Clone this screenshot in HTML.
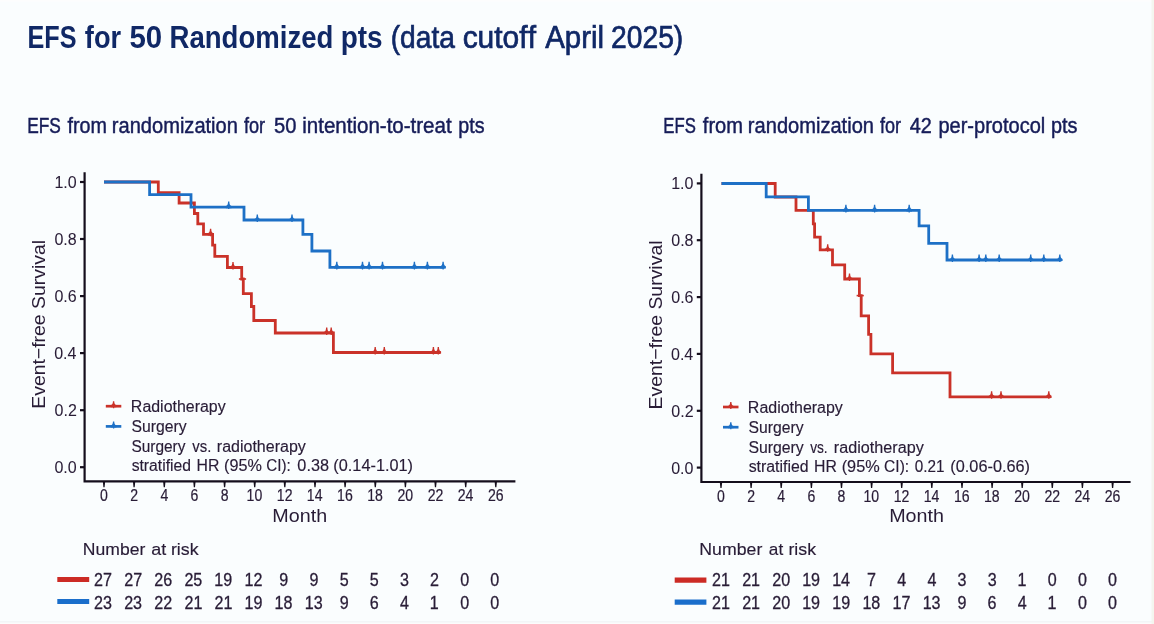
<!DOCTYPE html>
<html><head><meta charset="utf-8"><title>EFS</title>
<style>html,body{margin:0;padding:0;background:#FAFDFE;width:1154px;height:624px;overflow:hidden}svg{display:block;filter:blur(0.3px)}text{font-family:"Liberation Sans",sans-serif;font-kerning:none}</style>
</head><body>
<svg width="1154" height="624" viewBox="0 0 1154 624">
<rect width="1154" height="624" fill="#FAFDFE"/>
<rect x="0" y="0" width="1154" height="1.5" fill="#FDFDFD"/>
<rect x="0" y="621.5" width="1154" height="1" fill="#ECEEF0"/>
<rect x="0" y="622.5" width="1154" height="1.5" fill="#FCFCFC"/>
<rect x="1151.5" y="0" width="2.5" height="624" fill="#F4F6EF"/>
<text x="27.52" y="47.9" font-size="32.0" font-weight="bold" fill="#102866" textLength="48.97" lengthAdjust="spacingAndGlyphs">EFS</text>
<text x="84.83" y="47.9" font-size="32.0" font-weight="bold" fill="#102866" textLength="36.28" lengthAdjust="spacingAndGlyphs">for</text>
<text x="129.50" y="47.9" font-size="32.0" font-weight="bold" fill="#102866" textLength="32.71" lengthAdjust="spacingAndGlyphs">50</text>
<text x="169.56" y="47.9" font-size="32.0" font-weight="bold" fill="#102866" textLength="163.86" lengthAdjust="spacingAndGlyphs">Randomized</text>
<text x="340.76" y="47.9" font-size="32.0" font-weight="bold" fill="#102866" textLength="41.89" lengthAdjust="spacingAndGlyphs">pts</text>
<text x="390.75" y="47.9" font-size="32.0" fill="#102866" stroke="#102866" stroke-width="0.7" textLength="64.15" lengthAdjust="spacingAndGlyphs">(data</text>
<text x="462.63" y="47.9" font-size="32.0" fill="#102866" stroke="#102866" stroke-width="0.7" textLength="73.33" lengthAdjust="spacingAndGlyphs">cutoff</text>
<text x="545.24" y="47.9" font-size="32.0" fill="#102866" stroke="#102866" stroke-width="0.7" textLength="58.82" lengthAdjust="spacingAndGlyphs">April</text>
<text x="611.08" y="47.9" font-size="32.0" fill="#102866" stroke="#102866" stroke-width="0.7" textLength="72.17" lengthAdjust="spacingAndGlyphs">2025)</text>
<text x="27.28" y="133.2" font-size="21.8" fill="#161C58" stroke="#161C58" stroke-width="0.45" textLength="33.61" lengthAdjust="spacingAndGlyphs">EFS</text>
<text x="67.42" y="133.2" font-size="21.8" fill="#161C58" stroke="#161C58" stroke-width="0.45" textLength="39.48" lengthAdjust="spacingAndGlyphs">from</text>
<text x="111.87" y="133.2" font-size="21.8" fill="#161C58" stroke="#161C58" stroke-width="0.45" textLength="126.04" lengthAdjust="spacingAndGlyphs">randomization</text>
<text x="243.94" y="133.2" font-size="21.8" fill="#161C58" stroke="#161C58" stroke-width="0.45" textLength="21.16" lengthAdjust="spacingAndGlyphs">for</text>
<text x="273.99" y="133.2" font-size="21.8" fill="#161C58" stroke="#161C58" stroke-width="0.45" textLength="22.39" lengthAdjust="spacingAndGlyphs">50</text>
<text x="302.23" y="133.2" font-size="21.8" fill="#161C58" stroke="#161C58" stroke-width="0.45" textLength="149.42" lengthAdjust="spacingAndGlyphs">intention-to-treat</text>
<text x="458.33" y="133.2" font-size="21.8" fill="#161C58" stroke="#161C58" stroke-width="0.45" textLength="26.28" lengthAdjust="spacingAndGlyphs">pts</text>
<text x="663.33" y="133.2" font-size="21.8" fill="#161C58" stroke="#161C58" stroke-width="0.45" textLength="32.54" lengthAdjust="spacingAndGlyphs">EFS</text>
<text x="702.82" y="133.2" font-size="21.8" fill="#161C58" stroke="#161C58" stroke-width="0.45" textLength="40.21" lengthAdjust="spacingAndGlyphs">from</text>
<text x="747.87" y="133.2" font-size="21.8" fill="#161C58" stroke="#161C58" stroke-width="0.45" textLength="126.14" lengthAdjust="spacingAndGlyphs">randomization</text>
<text x="880.04" y="133.2" font-size="21.8" fill="#161C58" stroke="#161C58" stroke-width="0.45" textLength="21.06" lengthAdjust="spacingAndGlyphs">for</text>
<text x="909.85" y="133.2" font-size="21.8" fill="#161C58" stroke="#161C58" stroke-width="0.45" textLength="22.05" lengthAdjust="spacingAndGlyphs">42</text>
<text x="938.41" y="133.2" font-size="21.8" fill="#161C58" stroke="#161C58" stroke-width="0.45" textLength="106.83" lengthAdjust="spacingAndGlyphs">per-protocol</text>
<text x="1050.92" y="133.2" font-size="21.8" fill="#161C58" stroke="#161C58" stroke-width="0.45" textLength="26.50" lengthAdjust="spacingAndGlyphs">pts</text>
<path d="M84.6,172.3 V481.3 H515.4" fill="none" stroke="#140E1C" stroke-width="2.2" stroke-linejoin="miter"/>
<path d="M80.0,467.2 H84.6" stroke="#140E1C" stroke-width="2.2"/>
<text x="54.38" y="473.1" font-size="16" fill="#281C36" stroke="#281C36" stroke-width="0.05" textLength="22.24" lengthAdjust="spacingAndGlyphs">0.0</text>
<path d="M80.0,410.2 H84.6" stroke="#140E1C" stroke-width="2.2"/>
<text x="54.56" y="416.1" font-size="16" fill="#281C36" stroke="#281C36" stroke-width="0.05" textLength="22.24" lengthAdjust="spacingAndGlyphs">0.2</text>
<path d="M80.0,353.1 H84.6" stroke="#140E1C" stroke-width="2.2"/>
<text x="54.23" y="359.0" font-size="16" fill="#281C36" stroke="#281C36" stroke-width="0.05" textLength="22.24" lengthAdjust="spacingAndGlyphs">0.4</text>
<path d="M80.0,296.1 H84.6" stroke="#140E1C" stroke-width="2.2"/>
<text x="54.46" y="302.0" font-size="16" fill="#281C36" stroke="#281C36" stroke-width="0.05" textLength="22.24" lengthAdjust="spacingAndGlyphs">0.6</text>
<path d="M80.0,239.0 H84.6" stroke="#140E1C" stroke-width="2.2"/>
<text x="54.45" y="244.9" font-size="16" fill="#281C36" stroke="#281C36" stroke-width="0.05" textLength="22.24" lengthAdjust="spacingAndGlyphs">0.8</text>
<path d="M80.0,182.0 H84.6" stroke="#140E1C" stroke-width="2.2"/>
<text x="54.38" y="187.9" font-size="16" fill="#281C36" stroke="#281C36" stroke-width="0.05" textLength="22.24" lengthAdjust="spacingAndGlyphs">1.0</text>
<path d="M102.8,481.3 L105.2,481.3 L104.6,487.3 L103.4,487.3 Z" fill="#140E1C"/>
<text x="100.08" y="501.3" font-size="16" fill="#281C36" stroke="#281C36" stroke-width="0.2" textLength="7.83" lengthAdjust="spacingAndGlyphs">0</text>
<path d="M132.9,481.3 L135.3,481.3 L134.7,487.3 L133.5,487.3 Z" fill="#140E1C"/>
<text x="130.22" y="501.3" font-size="16" fill="#281C36" stroke="#281C36" stroke-width="0.2" textLength="7.83" lengthAdjust="spacingAndGlyphs">2</text>
<path d="M163.1,481.3 L165.5,481.3 L164.9,487.3 L163.7,487.3 Z" fill="#140E1C"/>
<text x="160.41" y="501.3" font-size="16" fill="#281C36" stroke="#281C36" stroke-width="0.2" textLength="7.83" lengthAdjust="spacingAndGlyphs">4</text>
<path d="M193.2,481.3 L195.6,481.3 L195.0,487.3 L193.8,487.3 Z" fill="#140E1C"/>
<text x="190.46" y="501.3" font-size="16" fill="#281C36" stroke="#281C36" stroke-width="0.2" textLength="7.83" lengthAdjust="spacingAndGlyphs">6</text>
<path d="M223.4,481.3 L225.8,481.3 L225.2,487.3 L224.0,487.3 Z" fill="#140E1C"/>
<text x="220.64" y="501.3" font-size="16" fill="#281C36" stroke="#281C36" stroke-width="0.2" textLength="7.83" lengthAdjust="spacingAndGlyphs">8</text>
<path d="M253.5,481.3 L255.9,481.3 L255.3,487.3 L254.1,487.3 Z" fill="#140E1C"/>
<text x="246.61" y="501.3" font-size="16" fill="#281C36" stroke="#281C36" stroke-width="0.2" textLength="15.66" lengthAdjust="spacingAndGlyphs">10</text>
<path d="M283.6,481.3 L286.0,481.3 L285.4,487.3 L284.2,487.3 Z" fill="#140E1C"/>
<text x="276.83" y="501.3" font-size="16" fill="#281C36" stroke="#281C36" stroke-width="0.2" textLength="15.66" lengthAdjust="spacingAndGlyphs">12</text>
<path d="M313.8,481.3 L316.2,481.3 L315.6,487.3 L314.4,487.3 Z" fill="#140E1C"/>
<text x="306.82" y="501.3" font-size="16" fill="#281C36" stroke="#281C36" stroke-width="0.2" textLength="15.66" lengthAdjust="spacingAndGlyphs">14</text>
<path d="M343.9,481.3 L346.3,481.3 L345.7,487.3 L344.5,487.3 Z" fill="#140E1C"/>
<text x="337.06" y="501.3" font-size="16" fill="#281C36" stroke="#281C36" stroke-width="0.2" textLength="15.66" lengthAdjust="spacingAndGlyphs">16</text>
<path d="M374.1,481.3 L376.5,481.3 L375.9,487.3 L374.7,487.3 Z" fill="#140E1C"/>
<text x="367.20" y="501.3" font-size="16" fill="#281C36" stroke="#281C36" stroke-width="0.2" textLength="15.66" lengthAdjust="spacingAndGlyphs">18</text>
<path d="M404.2,481.3 L406.6,481.3 L406.0,487.3 L404.8,487.3 Z" fill="#140E1C"/>
<text x="397.49" y="501.3" font-size="16" fill="#281C36" stroke="#281C36" stroke-width="0.2" textLength="15.66" lengthAdjust="spacingAndGlyphs">20</text>
<path d="M434.3,481.3 L436.7,481.3 L436.1,487.3 L434.9,487.3 Z" fill="#140E1C"/>
<text x="427.71" y="501.3" font-size="16" fill="#281C36" stroke="#281C36" stroke-width="0.2" textLength="15.66" lengthAdjust="spacingAndGlyphs">22</text>
<path d="M464.5,481.3 L466.9,481.3 L466.3,487.3 L465.1,487.3 Z" fill="#140E1C"/>
<text x="457.70" y="501.3" font-size="16" fill="#281C36" stroke="#281C36" stroke-width="0.2" textLength="15.66" lengthAdjust="spacingAndGlyphs">24</text>
<path d="M494.6,481.3 L497.0,481.3 L496.4,487.3 L495.2,487.3 Z" fill="#140E1C"/>
<text x="487.94" y="501.3" font-size="16" fill="#281C36" stroke="#281C36" stroke-width="0.2" textLength="15.66" lengthAdjust="spacingAndGlyphs">26</text>
<path d="M105.8,406.2 H121.3" stroke="#CA3229" stroke-width="2.7"/><path d="M110.80,405.10 Q112.90,404.80 112.95,401.20 L114.25,401.20 Q114.30,404.80 116.40,405.10 L116.40,407.30 L114.25,407.30 L114.25,408.20 L112.95,408.20 L112.95,407.30 L110.80,407.30 Z" fill="#CA3229"/>
<path d="M105.8,426.4 H121.3" stroke="#1D70C6" stroke-width="2.7"/><path d="M110.80,425.30 Q112.90,425.00 112.95,421.40 L114.25,421.40 Q114.30,425.00 116.40,425.30 L116.40,427.50 L114.25,427.50 L114.25,428.40 L112.95,428.40 L112.95,427.50 L110.80,427.50 Z" fill="#1D70C6"/>
<text x="130.89" y="411.6" font-size="15.8" fill="#281C36" stroke="#281C36" stroke-width="0.15" textLength="94.74" lengthAdjust="spacingAndGlyphs">Radiotherapy</text>
<text x="131.48" y="431.6" font-size="15.8" fill="#281C36" stroke="#281C36" stroke-width="0.15" textLength="55.15" lengthAdjust="spacingAndGlyphs">Surgery</text>
<text x="131.40" y="452.4" font-size="15.8" fill="#281C36" stroke="#281C36" stroke-width="0.15" textLength="54.03" lengthAdjust="spacingAndGlyphs">Surgery</text>
<text x="192.35" y="452.4" font-size="15.8" fill="#281C36" stroke="#281C36" stroke-width="0.15" textLength="19.01" lengthAdjust="spacingAndGlyphs">vs.</text>
<text x="216.84" y="452.4" font-size="15.8" fill="#281C36" stroke="#281C36" stroke-width="0.15" textLength="88.99" lengthAdjust="spacingAndGlyphs">radiotherapy</text>
<text x="131.66" y="470.5" font-size="15.8" fill="#281C36" stroke="#281C36" stroke-width="0.15" textLength="59.35" lengthAdjust="spacingAndGlyphs">stratified</text>
<text x="196.50" y="470.5" font-size="15.8" fill="#281C36" stroke="#281C36" stroke-width="0.15" textLength="22.83" lengthAdjust="spacingAndGlyphs">HR</text>
<text x="223.99" y="470.5" font-size="15.8" fill="#281C36" stroke="#281C36" stroke-width="0.15" textLength="37.88" lengthAdjust="spacingAndGlyphs">(95%</text>
<text x="266.23" y="470.5" font-size="15.8" fill="#281C36" stroke="#281C36" stroke-width="0.15" textLength="24.46" lengthAdjust="spacingAndGlyphs">CI):</text>
<text x="297.36" y="470.5" font-size="15.8" fill="#281C36" stroke="#281C36" stroke-width="0.15" textLength="31.64" lengthAdjust="spacingAndGlyphs">0.38</text>
<text x="333.39" y="470.5" font-size="15.8" fill="#281C36" stroke="#281C36" stroke-width="0.15" textLength="79.62" lengthAdjust="spacingAndGlyphs">(0.14-1.01)</text>
<path d="M104,182 H158.3 V192.6 H179.1 V203 H194.4 V213.5 H197.8 V223.8 H203.5 V234.3 H212.6 V245.2 H214.8 V256.4 H227.4 V267.5 H241.7 V279 H243.3 V293.6 H251.4 V306.5 H253.8 V320.5 H275.3 V333 H333.4 V352.5 H440.5" fill="none" stroke="#CA3229" stroke-width="2.8" stroke-linejoin="miter" stroke-linecap="butt"/>
<path d="M104,182 H149.6 V194.6 H191 V207.1 H244 V220 H302.9 V234.3 H311.9 V251 H329.9 V267.4 H444.5" fill="none" stroke="#1D70C6" stroke-width="2.8" stroke-linejoin="miter" stroke-linecap="butt"/>
<path d="M207.80,233.20 Q209.90,232.90 209.95,228.70 L211.25,228.70 Q211.30,232.90 213.40,233.20 L213.40,235.40 L211.25,235.40 L211.25,236.30 L209.95,236.30 L209.95,235.40 L207.80,235.40 Z" fill="#CA3229"/>
<path d="M230.20,266.40 Q232.30,266.10 232.35,261.90 L233.65,261.90 Q233.70,266.10 235.80,266.40 L235.80,268.60 L233.65,268.60 L233.65,269.50 L232.35,269.50 L232.35,268.60 L230.20,268.60 Z" fill="#CA3229"/>
<path d="M323.90,331.90 Q326.00,331.60 326.05,327.40 L327.35,327.40 Q327.40,331.60 329.50,331.90 L329.50,334.10 L327.35,334.10 L327.35,335.00 L326.05,335.00 L326.05,334.10 L323.90,334.10 Z" fill="#CA3229"/>
<path d="M328.40,331.90 Q330.50,331.60 330.55,327.40 L331.85,327.40 Q331.90,331.60 334.00,331.90 L334.00,334.10 L331.85,334.10 L331.85,335.00 L330.55,335.00 L330.55,334.10 L328.40,334.10 Z" fill="#CA3229"/>
<path d="M372.40,351.40 Q374.50,351.10 374.55,346.90 L375.85,346.90 Q375.90,351.10 378.00,351.40 L378.00,353.60 L375.85,353.60 L375.85,354.50 L374.55,354.50 L374.55,353.60 L372.40,353.60 Z" fill="#CA3229"/>
<path d="M381.50,351.40 Q383.60,351.10 383.65,346.90 L384.95,346.90 Q385.00,351.10 387.10,351.40 L387.10,353.60 L384.95,353.60 L384.95,354.50 L383.65,354.50 L383.65,353.60 L381.50,353.60 Z" fill="#CA3229"/>
<path d="M430.60,351.40 Q432.70,351.10 432.75,346.90 L434.05,346.90 Q434.10,351.10 436.20,351.40 L436.20,353.60 L434.05,353.60 L434.05,354.50 L432.75,354.50 L432.75,353.60 L430.60,353.60 Z" fill="#CA3229"/>
<path d="M435.50,351.40 Q437.60,351.10 437.65,346.90 L438.95,346.90 Q439.00,351.10 441.10,351.40 L441.10,353.60 L438.95,353.60 L438.95,354.50 L437.65,354.50 L437.65,353.60 L435.50,353.60 Z" fill="#CA3229"/>
<path d="M225.90,206.00 Q228.00,205.70 228.05,201.50 L229.35,201.50 Q229.40,205.70 231.50,206.00 L231.50,208.20 L229.35,208.20 L229.35,209.10 L228.05,209.10 L228.05,208.20 L225.90,208.20 Z" fill="#1D70C6"/>
<path d="M254.50,218.90 Q256.60,218.60 256.65,214.40 L257.95,214.40 Q258.00,218.60 260.10,218.90 L260.10,221.10 L257.95,221.10 L257.95,222.00 L256.65,222.00 L256.65,221.10 L254.50,221.10 Z" fill="#1D70C6"/>
<path d="M289.20,218.90 Q291.30,218.60 291.35,214.40 L292.65,214.40 Q292.70,218.60 294.80,218.90 L294.80,221.10 L292.65,221.10 L292.65,222.00 L291.35,222.00 L291.35,221.10 L289.20,221.10 Z" fill="#1D70C6"/>
<path d="M334.00,266.30 Q336.10,266.00 336.15,261.80 L337.45,261.80 Q337.50,266.00 339.60,266.30 L339.60,268.50 L337.45,268.50 L337.45,269.40 L336.15,269.40 L336.15,268.50 L334.00,268.50 Z" fill="#1D70C6"/>
<path d="M359.70,266.30 Q361.80,266.00 361.85,261.80 L363.15,261.80 Q363.20,266.00 365.30,266.30 L365.30,268.50 L363.15,268.50 L363.15,269.40 L361.85,269.40 L361.85,268.50 L359.70,268.50 Z" fill="#1D70C6"/>
<path d="M366.30,266.30 Q368.40,266.00 368.45,261.80 L369.75,261.80 Q369.80,266.00 371.90,266.30 L371.90,268.50 L369.75,268.50 L369.75,269.40 L368.45,269.40 L368.45,268.50 L366.30,268.50 Z" fill="#1D70C6"/>
<path d="M379.70,266.30 Q381.80,266.00 381.85,261.80 L383.15,261.80 Q383.20,266.00 385.30,266.30 L385.30,268.50 L383.15,268.50 L383.15,269.40 L381.85,269.40 L381.85,268.50 L379.70,268.50 Z" fill="#1D70C6"/>
<path d="M411.60,266.30 Q413.70,266.00 413.75,261.80 L415.05,261.80 Q415.10,266.00 417.20,266.30 L417.20,268.50 L415.05,268.50 L415.05,269.40 L413.75,269.40 L413.75,268.50 L411.60,268.50 Z" fill="#1D70C6"/>
<path d="M424.60,266.30 Q426.70,266.00 426.75,261.80 L428.05,261.80 Q428.10,266.00 430.20,266.30 L430.20,268.50 L428.05,268.50 L428.05,269.40 L426.75,269.40 L426.75,268.50 L424.60,268.50 Z" fill="#1D70C6"/>
<path d="M440.30,266.30 Q442.40,266.00 442.45,261.80 L443.75,261.80 Q443.80,266.00 445.90,266.30 L445.90,268.50 L443.75,268.50 L443.75,269.40 L442.45,269.40 L442.45,268.50 L440.30,268.50 Z" fill="#1D70C6"/>
<path d="M238.90,278.20 H246.10 V279.80 H238.90 Z" fill="#CA3229"/>
<path d="M701.4,173.7 V482 H1130.6" fill="none" stroke="#140E1C" stroke-width="2.2" stroke-linejoin="miter"/>
<path d="M696.8,467.6 H701.4" stroke="#140E1C" stroke-width="2.2"/>
<text x="671.18" y="473.5" font-size="16" fill="#281C36" stroke="#281C36" stroke-width="0.05" textLength="22.24" lengthAdjust="spacingAndGlyphs">0.0</text>
<path d="M696.8,410.8 H701.4" stroke="#140E1C" stroke-width="2.2"/>
<text x="671.36" y="416.7" font-size="16" fill="#281C36" stroke="#281C36" stroke-width="0.05" textLength="22.24" lengthAdjust="spacingAndGlyphs">0.2</text>
<path d="M696.8,353.9 H701.4" stroke="#140E1C" stroke-width="2.2"/>
<text x="671.03" y="359.8" font-size="16" fill="#281C36" stroke="#281C36" stroke-width="0.05" textLength="22.24" lengthAdjust="spacingAndGlyphs">0.4</text>
<path d="M696.8,297.1 H701.4" stroke="#140E1C" stroke-width="2.2"/>
<text x="671.26" y="303.0" font-size="16" fill="#281C36" stroke="#281C36" stroke-width="0.05" textLength="22.24" lengthAdjust="spacingAndGlyphs">0.6</text>
<path d="M696.8,240.2 H701.4" stroke="#140E1C" stroke-width="2.2"/>
<text x="671.25" y="246.1" font-size="16" fill="#281C36" stroke="#281C36" stroke-width="0.05" textLength="22.24" lengthAdjust="spacingAndGlyphs">0.8</text>
<path d="M696.8,183.4 H701.4" stroke="#140E1C" stroke-width="2.2"/>
<text x="671.18" y="189.3" font-size="16" fill="#281C36" stroke="#281C36" stroke-width="0.05" textLength="22.24" lengthAdjust="spacingAndGlyphs">1.0</text>
<path d="M719.8,482 L722.2,482 L721.6,488 L720.4,488 Z" fill="#140E1C"/>
<text x="717.08" y="502.0" font-size="16" fill="#281C36" stroke="#281C36" stroke-width="0.2" textLength="7.83" lengthAdjust="spacingAndGlyphs">0</text>
<path d="M749.9,482 L752.3,482 L751.7,488 L750.5,488 Z" fill="#140E1C"/>
<text x="747.20" y="502.0" font-size="16" fill="#281C36" stroke="#281C36" stroke-width="0.2" textLength="7.83" lengthAdjust="spacingAndGlyphs">2</text>
<path d="M780.0,482 L782.4,482 L781.8,488 L780.6,488 Z" fill="#140E1C"/>
<text x="777.37" y="502.0" font-size="16" fill="#281C36" stroke="#281C36" stroke-width="0.2" textLength="7.83" lengthAdjust="spacingAndGlyphs">4</text>
<path d="M810.2,482 L812.6,482 L812.0,488 L810.8,488 Z" fill="#140E1C"/>
<text x="807.40" y="502.0" font-size="16" fill="#281C36" stroke="#281C36" stroke-width="0.2" textLength="7.83" lengthAdjust="spacingAndGlyphs">6</text>
<path d="M840.3,482 L842.7,482 L842.1,488 L840.9,488 Z" fill="#140E1C"/>
<text x="837.56" y="502.0" font-size="16" fill="#281C36" stroke="#281C36" stroke-width="0.2" textLength="7.83" lengthAdjust="spacingAndGlyphs">8</text>
<path d="M870.4,482 L872.8,482 L872.2,488 L871.0,488 Z" fill="#140E1C"/>
<text x="863.51" y="502.0" font-size="16" fill="#281C36" stroke="#281C36" stroke-width="0.2" textLength="15.66" lengthAdjust="spacingAndGlyphs">10</text>
<path d="M900.5,482 L902.9,482 L902.3,488 L901.1,488 Z" fill="#140E1C"/>
<text x="893.71" y="502.0" font-size="16" fill="#281C36" stroke="#281C36" stroke-width="0.2" textLength="15.66" lengthAdjust="spacingAndGlyphs">12</text>
<path d="M930.6,482 L933.0,482 L932.4,488 L931.2,488 Z" fill="#140E1C"/>
<text x="923.68" y="502.0" font-size="16" fill="#281C36" stroke="#281C36" stroke-width="0.2" textLength="15.66" lengthAdjust="spacingAndGlyphs">14</text>
<path d="M960.8,482 L963.2,482 L962.6,488 L961.4,488 Z" fill="#140E1C"/>
<text x="953.90" y="502.0" font-size="16" fill="#281C36" stroke="#281C36" stroke-width="0.2" textLength="15.66" lengthAdjust="spacingAndGlyphs">16</text>
<path d="M990.9,482 L993.3,482 L992.7,488 L991.5,488 Z" fill="#140E1C"/>
<text x="984.02" y="502.0" font-size="16" fill="#281C36" stroke="#281C36" stroke-width="0.2" textLength="15.66" lengthAdjust="spacingAndGlyphs">18</text>
<path d="M1021.0,482 L1023.4,482 L1022.8,488 L1021.6,488 Z" fill="#140E1C"/>
<text x="1014.29" y="502.0" font-size="16" fill="#281C36" stroke="#281C36" stroke-width="0.2" textLength="15.66" lengthAdjust="spacingAndGlyphs">20</text>
<path d="M1051.1,482 L1053.5,482 L1052.9,488 L1051.7,488 Z" fill="#140E1C"/>
<text x="1044.49" y="502.0" font-size="16" fill="#281C36" stroke="#281C36" stroke-width="0.2" textLength="15.66" lengthAdjust="spacingAndGlyphs">22</text>
<path d="M1081.2,482 L1083.6,482 L1083.0,488 L1081.8,488 Z" fill="#140E1C"/>
<text x="1074.46" y="502.0" font-size="16" fill="#281C36" stroke="#281C36" stroke-width="0.2" textLength="15.66" lengthAdjust="spacingAndGlyphs">24</text>
<path d="M1111.4,482 L1113.8,482 L1113.2,488 L1112.0,488 Z" fill="#140E1C"/>
<text x="1104.68" y="502.0" font-size="16" fill="#281C36" stroke="#281C36" stroke-width="0.2" textLength="15.66" lengthAdjust="spacingAndGlyphs">26</text>
<path d="M723.0,407.0 H738.5" stroke="#CA3229" stroke-width="2.7"/><path d="M728.00,405.90 Q730.10,405.60 730.15,402.00 L731.45,402.00 Q731.50,405.60 733.60,405.90 L733.60,408.10 L731.45,408.10 L731.45,409.00 L730.15,409.00 L730.15,408.10 L728.00,408.10 Z" fill="#CA3229"/>
<path d="M723.0,427.2 H738.5" stroke="#1D70C6" stroke-width="2.7"/><path d="M728.00,426.10 Q730.10,425.80 730.15,422.20 L731.45,422.20 Q731.50,425.80 733.60,426.10 L733.60,428.30 L731.45,428.30 L731.45,429.20 L730.15,429.20 L730.15,428.30 L728.00,428.30 Z" fill="#1D70C6"/>
<text x="747.89" y="412.8" font-size="15.8" fill="#281C36" stroke="#281C36" stroke-width="0.15" textLength="94.94" lengthAdjust="spacingAndGlyphs">Radiotherapy</text>
<text x="748.49" y="433" font-size="15.8" fill="#281C36" stroke="#281C36" stroke-width="0.15" textLength="55.04" lengthAdjust="spacingAndGlyphs">Surgery</text>
<text x="748.38" y="453.3" font-size="15.8" fill="#281C36" stroke="#281C36" stroke-width="0.15" textLength="55.35" lengthAdjust="spacingAndGlyphs">Surgery</text>
<text x="810.15" y="453.3" font-size="15.8" fill="#281C36" stroke="#281C36" stroke-width="0.15" textLength="17.50" lengthAdjust="spacingAndGlyphs">vs.</text>
<text x="833.83" y="453.3" font-size="15.8" fill="#281C36" stroke="#281C36" stroke-width="0.15" textLength="89.91" lengthAdjust="spacingAndGlyphs">radiotherapy</text>
<text x="748.66" y="471.6" font-size="15.8" fill="#281C36" stroke="#281C36" stroke-width="0.15" textLength="59.96" lengthAdjust="spacingAndGlyphs">stratified</text>
<text x="814.10" y="471.6" font-size="15.8" fill="#281C36" stroke="#281C36" stroke-width="0.15" textLength="22.83" lengthAdjust="spacingAndGlyphs">HR</text>
<text x="841.69" y="471.6" font-size="15.8" fill="#281C36" stroke="#281C36" stroke-width="0.15" textLength="37.99" lengthAdjust="spacingAndGlyphs">(95%</text>
<text x="884.11" y="471.6" font-size="15.8" fill="#281C36" stroke="#281C36" stroke-width="0.15" textLength="25.01" lengthAdjust="spacingAndGlyphs">CI):</text>
<text x="914.80" y="471.6" font-size="15.8" fill="#281C36" stroke="#281C36" stroke-width="0.15" textLength="29.74" lengthAdjust="spacingAndGlyphs">0.21</text>
<text x="950.39" y="471.6" font-size="15.8" fill="#281C36" stroke="#281C36" stroke-width="0.15" textLength="79.62" lengthAdjust="spacingAndGlyphs">(0.06-0.66)</text>
<path d="M721.5,183.5 H775.2 V197 H796 V210.4 H813.3 V223.8 H814.6 V237.2 H820.2 V249.8 H832.5 V264.9 H844.7 V279 H859.4 V295.6 H861.2 V315.9 H868.6 V334.4 H870.9 V353.9 H892.6 V372.9 H950 V396.8 H1050.5" fill="none" stroke="#CA3229" stroke-width="2.8" stroke-linejoin="miter" stroke-linecap="butt"/>
<path d="M721.5,183.5 H766.2 V196.8 H808.4 V210.4 H919.1 V225.8 H928.7 V243.4 H947 V260 H1061.5" fill="none" stroke="#1D70C6" stroke-width="2.8" stroke-linejoin="miter" stroke-linecap="butt"/>
<path d="M824.90,248.70 Q827.00,248.40 827.05,244.20 L828.35,244.20 Q828.40,248.40 830.50,248.70 L830.50,250.90 L828.35,250.90 L828.35,251.80 L827.05,251.80 L827.05,250.90 L824.90,250.90 Z" fill="#CA3229"/>
<path d="M846.70,277.90 Q848.80,277.60 848.85,273.40 L850.15,273.40 Q850.20,277.60 852.30,277.90 L852.30,280.10 L850.15,280.10 L850.15,281.00 L848.85,281.00 L848.85,280.10 L846.70,280.10 Z" fill="#CA3229"/>
<path d="M988.80,395.70 Q990.90,395.40 990.95,391.20 L992.25,391.20 Q992.30,395.40 994.40,395.70 L994.40,397.90 L992.25,397.90 L992.25,398.80 L990.95,398.80 L990.95,397.90 L988.80,397.90 Z" fill="#CA3229"/>
<path d="M998.20,395.70 Q1000.30,395.40 1000.35,391.20 L1001.65,391.20 Q1001.70,395.40 1003.80,395.70 L1003.80,397.90 L1001.65,397.90 L1001.65,398.80 L1000.35,398.80 L1000.35,397.90 L998.20,397.90 Z" fill="#CA3229"/>
<path d="M1046.00,395.70 Q1048.10,395.40 1048.15,391.20 L1049.45,391.20 Q1049.50,395.40 1051.60,395.70 L1051.60,397.90 L1049.45,397.90 L1049.45,398.80 L1048.15,398.80 L1048.15,397.90 L1046.00,397.90 Z" fill="#CA3229"/>
<path d="M843.10,209.30 Q845.20,209.00 845.25,204.80 L846.55,204.80 Q846.60,209.00 848.70,209.30 L848.70,211.50 L846.55,211.50 L846.55,212.40 L845.25,212.40 L845.25,211.50 L843.10,211.50 Z" fill="#1D70C6"/>
<path d="M871.80,209.30 Q873.90,209.00 873.95,204.80 L875.25,204.80 Q875.30,209.00 877.40,209.30 L877.40,211.50 L875.25,211.50 L875.25,212.40 L873.95,212.40 L873.95,211.50 L871.80,211.50 Z" fill="#1D70C6"/>
<path d="M906.40,209.30 Q908.50,209.00 908.55,204.80 L909.85,204.80 Q909.90,209.00 912.00,209.30 L912.00,211.50 L909.85,211.50 L909.85,212.40 L908.55,212.40 L908.55,211.50 L906.40,211.50 Z" fill="#1D70C6"/>
<path d="M949.60,258.90 Q951.70,258.60 951.75,254.40 L953.05,254.40 Q953.10,258.60 955.20,258.90 L955.20,261.10 L953.05,261.10 L953.05,262.00 L951.75,262.00 L951.75,261.10 L949.60,261.10 Z" fill="#1D70C6"/>
<path d="M976.30,258.90 Q978.40,258.60 978.45,254.40 L979.75,254.40 Q979.80,258.60 981.90,258.90 L981.90,261.10 L979.75,261.10 L979.75,262.00 L978.45,262.00 L978.45,261.10 L976.30,261.10 Z" fill="#1D70C6"/>
<path d="M983.00,258.90 Q985.10,258.60 985.15,254.40 L986.45,254.40 Q986.50,258.60 988.60,258.90 L988.60,261.10 L986.45,261.10 L986.45,262.00 L985.15,262.00 L985.15,261.10 L983.00,261.10 Z" fill="#1D70C6"/>
<path d="M996.40,258.90 Q998.50,258.60 998.55,254.40 L999.85,254.40 Q999.90,258.60 1002.00,258.90 L1002.00,261.10 L999.85,261.10 L999.85,262.00 L998.55,262.00 L998.55,261.10 L996.40,261.10 Z" fill="#1D70C6"/>
<path d="M1027.90,258.90 Q1030.00,258.60 1030.05,254.40 L1031.35,254.40 Q1031.40,258.60 1033.50,258.90 L1033.50,261.10 L1031.35,261.10 L1031.35,262.00 L1030.05,262.00 L1030.05,261.10 L1027.90,261.10 Z" fill="#1D70C6"/>
<path d="M1041.00,258.90 Q1043.10,258.60 1043.15,254.40 L1044.45,254.40 Q1044.50,258.60 1046.60,258.90 L1046.60,261.10 L1044.45,261.10 L1044.45,262.00 L1043.15,262.00 L1043.15,261.10 L1041.00,261.10 Z" fill="#1D70C6"/>
<path d="M1057.00,258.90 Q1059.10,258.60 1059.15,254.40 L1060.45,254.40 Q1060.50,258.60 1062.60,258.90 L1062.60,261.10 L1060.45,261.10 L1060.45,262.00 L1059.15,262.00 L1059.15,261.10 L1057.00,261.10 Z" fill="#1D70C6"/>
<path d="M856.60,294.80 H863.80 V296.40 H856.60 Z" fill="#CA3229"/>
<text x="272.38" y="522" font-size="19" fill="#281C36" textLength="54.80" lengthAdjust="spacingAndGlyphs">Month</text>
<text x="889.18" y="522.3" font-size="19" fill="#281C36" textLength="54.80" lengthAdjust="spacingAndGlyphs">Month</text>
<text transform="rotate(-90)" x="-408.79" y="44.7" font-size="18.3" fill="#281C36" stroke="#281C36" stroke-width="0" textLength="168.89" lengthAdjust="spacingAndGlyphs">Event−free Survival</text>
<text transform="rotate(-90)" x="-409.49" y="661.9" font-size="18.3" fill="#281C36" stroke="#281C36" stroke-width="0" textLength="168.99" lengthAdjust="spacingAndGlyphs">Event−free Survival</text>
<text x="82.86" y="555.3" font-size="17" fill="#281C36" stroke="#281C36" stroke-width="0.15" textLength="62.43" lengthAdjust="spacingAndGlyphs">Number</text>
<text x="151.24" y="555.3" font-size="17" fill="#281C36" stroke="#281C36" stroke-width="0.15" textLength="15.00" lengthAdjust="spacingAndGlyphs">at</text>
<text x="170.92" y="555.3" font-size="17" fill="#281C36" stroke="#281C36" stroke-width="0.15" textLength="27.65" lengthAdjust="spacingAndGlyphs">risk</text>
<text x="699.35" y="555.3" font-size="17" fill="#281C36" stroke="#281C36" stroke-width="0.15" textLength="62.95" lengthAdjust="spacingAndGlyphs">Number</text>
<text x="768.87" y="555.3" font-size="17" fill="#281C36" stroke="#281C36" stroke-width="0.15" textLength="14.36" lengthAdjust="spacingAndGlyphs">at</text>
<text x="788.42" y="555.3" font-size="17" fill="#281C36" stroke="#281C36" stroke-width="0.15" textLength="27.65" lengthAdjust="spacingAndGlyphs">risk</text>
<path d="M57.3,579.5 H89.2" stroke="#CC2B25" stroke-width="5.2"/>
<path d="M57.3,601.5 H89.2" stroke="#1A6ECB" stroke-width="5.2"/>
<path d="M674.7,580.2 H706.4" stroke="#CC2B25" stroke-width="5.2"/>
<path d="M674.7,602.2 H706.4" stroke="#1A6ECB" stroke-width="5.2"/>
<text x="94.05" y="586.2" font-size="17.5" fill="#281C36" stroke="#281C36" stroke-width="0.3" textLength="17.91" lengthAdjust="spacingAndGlyphs">27</text>
<text x="93.99" y="608.8" font-size="17.5" fill="#281C36" stroke="#281C36" stroke-width="0.3" textLength="17.91" lengthAdjust="spacingAndGlyphs">23</text>
<text x="124.19" y="586.2" font-size="17.5" fill="#281C36" stroke="#281C36" stroke-width="0.3" textLength="17.91" lengthAdjust="spacingAndGlyphs">27</text>
<text x="124.13" y="608.8" font-size="17.5" fill="#281C36" stroke="#281C36" stroke-width="0.3" textLength="17.91" lengthAdjust="spacingAndGlyphs">23</text>
<text x="154.27" y="586.2" font-size="17.5" fill="#281C36" stroke="#281C36" stroke-width="0.3" textLength="17.91" lengthAdjust="spacingAndGlyphs">26</text>
<text x="154.33" y="608.8" font-size="17.5" fill="#281C36" stroke="#281C36" stroke-width="0.3" textLength="17.91" lengthAdjust="spacingAndGlyphs">22</text>
<text x="184.40" y="586.2" font-size="17.5" fill="#281C36" stroke="#281C36" stroke-width="0.3" textLength="17.91" lengthAdjust="spacingAndGlyphs">25</text>
<text x="184.45" y="608.8" font-size="17.5" fill="#281C36" stroke="#281C36" stroke-width="0.3" textLength="17.91" lengthAdjust="spacingAndGlyphs">21</text>
<text x="214.37" y="586.2" font-size="17.5" fill="#281C36" stroke="#281C36" stroke-width="0.3" textLength="17.91" lengthAdjust="spacingAndGlyphs">19</text>
<text x="214.59" y="608.8" font-size="17.5" fill="#281C36" stroke="#281C36" stroke-width="0.3" textLength="17.91" lengthAdjust="spacingAndGlyphs">21</text>
<text x="244.54" y="586.2" font-size="17.5" fill="#281C36" stroke="#281C36" stroke-width="0.3" textLength="17.91" lengthAdjust="spacingAndGlyphs">12</text>
<text x="244.51" y="608.8" font-size="17.5" fill="#281C36" stroke="#281C36" stroke-width="0.3" textLength="17.91" lengthAdjust="spacingAndGlyphs">19</text>
<text x="279.37" y="586.2" font-size="17.5" fill="#281C36" stroke="#281C36" stroke-width="0.3" textLength="8.95" lengthAdjust="spacingAndGlyphs">9</text>
<text x="274.62" y="608.8" font-size="17.5" fill="#281C36" stroke="#281C36" stroke-width="0.3" textLength="17.91" lengthAdjust="spacingAndGlyphs">18</text>
<text x="309.51" y="586.2" font-size="17.5" fill="#281C36" stroke="#281C36" stroke-width="0.3" textLength="8.95" lengthAdjust="spacingAndGlyphs">9</text>
<text x="304.77" y="608.8" font-size="17.5" fill="#281C36" stroke="#281C36" stroke-width="0.3" textLength="17.91" lengthAdjust="spacingAndGlyphs">13</text>
<text x="339.66" y="586.2" font-size="17.5" fill="#281C36" stroke="#281C36" stroke-width="0.3" textLength="8.95" lengthAdjust="spacingAndGlyphs">5</text>
<text x="339.65" y="608.8" font-size="17.5" fill="#281C36" stroke="#281C36" stroke-width="0.3" textLength="8.95" lengthAdjust="spacingAndGlyphs">9</text>
<text x="369.80" y="586.2" font-size="17.5" fill="#281C36" stroke="#281C36" stroke-width="0.3" textLength="8.95" lengthAdjust="spacingAndGlyphs">5</text>
<text x="369.73" y="608.8" font-size="17.5" fill="#281C36" stroke="#281C36" stroke-width="0.3" textLength="8.95" lengthAdjust="spacingAndGlyphs">6</text>
<text x="399.97" y="586.2" font-size="17.5" fill="#281C36" stroke="#281C36" stroke-width="0.3" textLength="8.95" lengthAdjust="spacingAndGlyphs">3</text>
<text x="399.97" y="608.8" font-size="17.5" fill="#281C36" stroke="#281C36" stroke-width="0.3" textLength="8.95" lengthAdjust="spacingAndGlyphs">4</text>
<text x="430.06" y="586.2" font-size="17.5" fill="#281C36" stroke="#281C36" stroke-width="0.3" textLength="8.95" lengthAdjust="spacingAndGlyphs">2</text>
<text x="429.84" y="608.8" font-size="17.5" fill="#281C36" stroke="#281C36" stroke-width="0.3" textLength="8.95" lengthAdjust="spacingAndGlyphs">1</text>
<text x="460.20" y="586.2" font-size="17.5" fill="#281C36" stroke="#281C36" stroke-width="0.3" textLength="8.95" lengthAdjust="spacingAndGlyphs">0</text>
<text x="460.20" y="608.8" font-size="17.5" fill="#281C36" stroke="#281C36" stroke-width="0.3" textLength="8.95" lengthAdjust="spacingAndGlyphs">0</text>
<text x="490.34" y="586.2" font-size="17.5" fill="#281C36" stroke="#281C36" stroke-width="0.3" textLength="8.95" lengthAdjust="spacingAndGlyphs">0</text>
<text x="490.34" y="608.8" font-size="17.5" fill="#281C36" stroke="#281C36" stroke-width="0.3" textLength="8.95" lengthAdjust="spacingAndGlyphs">0</text>
<text x="712.03" y="586.4" font-size="17.5" fill="#281C36" stroke="#281C36" stroke-width="0.3" textLength="17.91" lengthAdjust="spacingAndGlyphs">21</text>
<text x="712.03" y="609.3" font-size="17.5" fill="#281C36" stroke="#281C36" stroke-width="0.3" textLength="17.91" lengthAdjust="spacingAndGlyphs">21</text>
<text x="742.15" y="586.4" font-size="17.5" fill="#281C36" stroke="#281C36" stroke-width="0.3" textLength="17.91" lengthAdjust="spacingAndGlyphs">21</text>
<text x="742.15" y="609.3" font-size="17.5" fill="#281C36" stroke="#281C36" stroke-width="0.3" textLength="17.91" lengthAdjust="spacingAndGlyphs">21</text>
<text x="772.20" y="586.4" font-size="17.5" fill="#281C36" stroke="#281C36" stroke-width="0.3" textLength="17.91" lengthAdjust="spacingAndGlyphs">20</text>
<text x="772.20" y="609.3" font-size="17.5" fill="#281C36" stroke="#281C36" stroke-width="0.3" textLength="17.91" lengthAdjust="spacingAndGlyphs">20</text>
<text x="802.17" y="586.4" font-size="17.5" fill="#281C36" stroke="#281C36" stroke-width="0.3" textLength="17.91" lengthAdjust="spacingAndGlyphs">19</text>
<text x="802.17" y="609.3" font-size="17.5" fill="#281C36" stroke="#281C36" stroke-width="0.3" textLength="17.91" lengthAdjust="spacingAndGlyphs">19</text>
<text x="832.15" y="586.4" font-size="17.5" fill="#281C36" stroke="#281C36" stroke-width="0.3" textLength="17.91" lengthAdjust="spacingAndGlyphs">14</text>
<text x="832.29" y="609.3" font-size="17.5" fill="#281C36" stroke="#281C36" stroke-width="0.3" textLength="17.91" lengthAdjust="spacingAndGlyphs">19</text>
<text x="867.12" y="586.4" font-size="17.5" fill="#281C36" stroke="#281C36" stroke-width="0.3" textLength="8.95" lengthAdjust="spacingAndGlyphs">7</text>
<text x="862.38" y="609.3" font-size="17.5" fill="#281C36" stroke="#281C36" stroke-width="0.3" textLength="17.91" lengthAdjust="spacingAndGlyphs">18</text>
<text x="897.29" y="586.4" font-size="17.5" fill="#281C36" stroke="#281C36" stroke-width="0.3" textLength="8.95" lengthAdjust="spacingAndGlyphs">4</text>
<text x="892.56" y="609.3" font-size="17.5" fill="#281C36" stroke="#281C36" stroke-width="0.3" textLength="17.91" lengthAdjust="spacingAndGlyphs">17</text>
<text x="927.41" y="586.4" font-size="17.5" fill="#281C36" stroke="#281C36" stroke-width="0.3" textLength="8.95" lengthAdjust="spacingAndGlyphs">4</text>
<text x="922.63" y="609.3" font-size="17.5" fill="#281C36" stroke="#281C36" stroke-width="0.3" textLength="17.91" lengthAdjust="spacingAndGlyphs">13</text>
<text x="957.53" y="586.4" font-size="17.5" fill="#281C36" stroke="#281C36" stroke-width="0.3" textLength="8.95" lengthAdjust="spacingAndGlyphs">3</text>
<text x="957.49" y="609.3" font-size="17.5" fill="#281C36" stroke="#281C36" stroke-width="0.3" textLength="8.95" lengthAdjust="spacingAndGlyphs">9</text>
<text x="987.65" y="586.4" font-size="17.5" fill="#281C36" stroke="#281C36" stroke-width="0.3" textLength="8.95" lengthAdjust="spacingAndGlyphs">3</text>
<text x="987.55" y="609.3" font-size="17.5" fill="#281C36" stroke="#281C36" stroke-width="0.3" textLength="8.95" lengthAdjust="spacingAndGlyphs">6</text>
<text x="1017.50" y="586.4" font-size="17.5" fill="#281C36" stroke="#281C36" stroke-width="0.3" textLength="8.95" lengthAdjust="spacingAndGlyphs">1</text>
<text x="1017.77" y="609.3" font-size="17.5" fill="#281C36" stroke="#281C36" stroke-width="0.3" textLength="8.95" lengthAdjust="spacingAndGlyphs">4</text>
<text x="1047.84" y="586.4" font-size="17.5" fill="#281C36" stroke="#281C36" stroke-width="0.3" textLength="8.95" lengthAdjust="spacingAndGlyphs">0</text>
<text x="1047.62" y="609.3" font-size="17.5" fill="#281C36" stroke="#281C36" stroke-width="0.3" textLength="8.95" lengthAdjust="spacingAndGlyphs">1</text>
<text x="1077.96" y="586.4" font-size="17.5" fill="#281C36" stroke="#281C36" stroke-width="0.3" textLength="8.95" lengthAdjust="spacingAndGlyphs">0</text>
<text x="1077.96" y="609.3" font-size="17.5" fill="#281C36" stroke="#281C36" stroke-width="0.3" textLength="8.95" lengthAdjust="spacingAndGlyphs">0</text>
<text x="1108.08" y="586.4" font-size="17.5" fill="#281C36" stroke="#281C36" stroke-width="0.3" textLength="8.95" lengthAdjust="spacingAndGlyphs">0</text>
<text x="1108.08" y="609.3" font-size="17.5" fill="#281C36" stroke="#281C36" stroke-width="0.3" textLength="8.95" lengthAdjust="spacingAndGlyphs">0</text>
</svg>
</body></html>
